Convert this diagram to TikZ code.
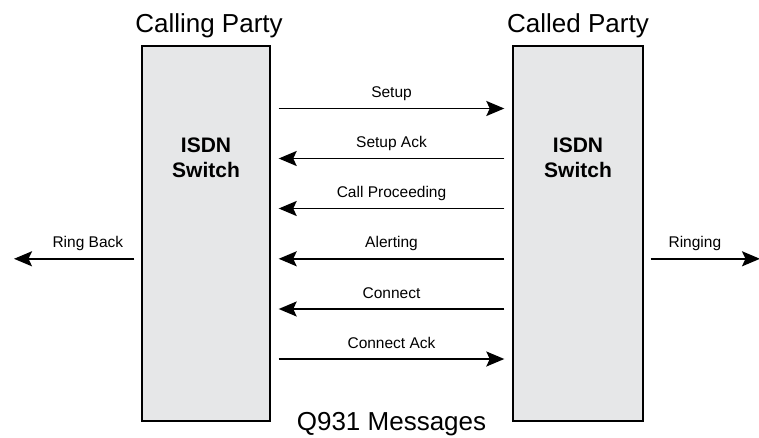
\documentclass[tikz,border=0pt]{standalone}
\usepackage{fontspec}
\setmainfont{Liberation Sans}
\usetikzlibrary{arrows.meta}
\definecolor{switchgray}{HTML}{E6E7E8}
\tikzset{
  switchbox/.style={draw=black, line width=1.4pt, fill=switchgray,
    minimum width=128pt, minimum height=375pt, inner sep=0pt},
  msg/.style={line width=1.9pt, -{Stealth[length=18pt,width=15pt,inset=3.5pt]},
    shorten <=8pt, shorten >=8pt},
  ext/.style={line width=1.9pt, -{Stealth[length=18pt,width=15pt,inset=3.5pt]}},
  msglabel/.style={font=\fontsize{15.5}{18}\selectfont, anchor=base, yshift=11pt, inner sep=0pt},
  title/.style={font=\fontsize{26}{30}\selectfont, anchor=base, inner sep=0pt},
  boxtext/.style={font=\fontsize{21}{25}\selectfont\bfseries, anchor=base, inner sep=0pt}
}
\begin{document}
\begin{tikzpicture}[x=1pt,y=-1pt]
  \useasboundingbox (0,0) rectangle (759,438);

  % the two switches
  \node[switchbox] (L) at (206,233.5) {};
  \node[switchbox, minimum width=130pt] (R) at (578,233.5) {};

  \node[boxtext] (L1) at (206,152.7) {ISDN};
  \node[boxtext] (L2) at (206,178) {Switch};
  \node[boxtext] (R1) at (578,152.7) {ISDN};
  \node[boxtext] (R2) at (578,178) {Switch};

  % headings
  \node[title] (tl) at (209,33) {Calling Party};
  \node[title] (tr) at (578,33) {Called Party};
  \node[title] (tb) at (391.5,430) {Q931 Messages};

  % heights of the message lines
  \coordinate (m1) at (0,108.5);
  \coordinate (m2) at (0,158.5);
  \coordinate (m3) at (0,208.5);
  \coordinate (m4) at (0,258.8);
  \coordinate (m5) at (0,309);
  \coordinate (m6) at (0,359);

  % Q931 messages
  \draw[msg] (L.east |- m1) -- node[msglabel] (t1) {Setup} (R.west |- m1);
  \draw[msg] (R.west |- m2) -- node[msglabel] (t2) {Setup Ack} (L.east |- m2);
  \draw[msg] (R.west |- m3) -- node[msglabel] (t3) {Call Proceeding} (L.east |- m3);
  \draw[msg] (R.west |- m4) -- node[msglabel] (t4) {Alerting} (L.east |- m4);
  \draw[msg] (R.west |- m5) -- node[msglabel] (t5) {Connect} (L.east |- m5);
  \draw[msg] (L.east |- m6) -- node[msglabel] (t6) {Connect Ack} (R.west |- m6);

  % tones towards the parties
  \coordinate (rbend) at (14,258.8);
  \coordinate (rgend) at (760,258.8);
  \draw[ext, shorten <=7pt] (L.west |- m4) -- node[msglabel, pos=0.42] (t7) {Ring Back} (rbend);
  \draw[ext, shorten <=7pt] (R.east |- m4) -- node[msglabel, pos=0.44] (t8) {Ringing} (rgend);
\end{tikzpicture}
\end{document}
